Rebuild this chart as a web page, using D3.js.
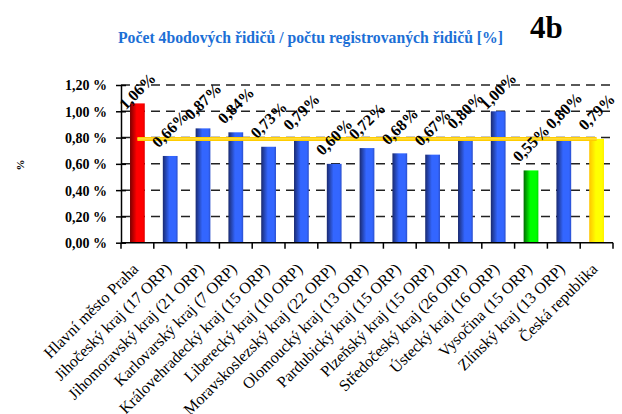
<!DOCTYPE html>
<html>
<head>
<meta charset="utf-8">
<script src="https://cdn.jsdelivr.net/npm/d3@7/dist/d3.min.js"></script>
<style>
  html, body { margin: 0; padding: 0; background: #fff; }
  svg { display: block; }
</style>
</head>
<body>
<div id="chart"></div>
<script>
// Regions and their share of 4-point drivers among registered drivers [%]
const categories = [
  "Hlavní město Praha",
  "Jihočeský kraj (17 ORP)",
  "Jihomoravský kraj (21 ORP)",
  "Karlovarský kraj (7 ORP)",
  "Královehradecký kraj (15 ORP)",
  "Liberecký kraj (10 ORP)",
  "Moravskoslezský kraj (22 ORP)",
  "Olomoucký kraj (13 ORP)",
  "Pardubický kraj (15 ORP)",
  "Plzeňský kraj (15 ORP)",
  "Středočeský kraj (26 ORP)",
  "Ústecký kraj (16 ORP)",
  "Vysočina (15 ORP)",
  "Zlínský kraj (13 ORP)",
  "Česká republika"
];
const values = [1.06, 0.66, 0.87, 0.84, 0.73, 0.79, 0.60, 0.72, 0.68, 0.67, 0.80, 1.00, 0.55, 0.80, 0.79];
// Bar colour group: max, regular, min, national
const barKind = ["max", "reg", "reg", "reg", "reg", "reg", "reg", "reg", "reg", "reg", "reg", "reg", "min", "reg", "cr"];
const nationalAverage = 0.79;
const yTicks = [0, 0.2, 0.4, 0.6, 0.8, 1.0, 1.2];

const W = 622, H = 414;
const plot = { left: 121, right: 613, top: 85, bottom: 242.7 };
const SERIF = '"Liberation Serif", Tinos, "Times New Roman", Times, "DejaVu Serif", serif';

const svg = d3.select("#chart").append("svg").attr("width", W).attr("height", H)
  .attr("font-family", SERIF);

const x = d3.scaleBand().domain(categories).range([plot.left, plot.right])
  .paddingInner(0.55).paddingOuter(0.275);
const y = d3.scaleLinear().domain([0, 1.2]).range([plot.bottom, plot.top]);
const fmt = v => v.toFixed(2).replace(".", ",");

// Gradients for the bars (dark left edge to bright face)
const defs = svg.append("defs");
const palettes = {
  max: ["#7a0000", "#ff0000", "#ff0000", "#e00000"],
  reg: ["#1a2a70", "#3366ff", "#3366ff", "#2a4fcc"],
  min: ["#006a00", "#00ff00", "#00ff00", "#00dd00"],
  cr:  ["#ffc400", "#ffff00", "#ffff00", "#ffee00"]
};
Object.entries(palettes).forEach(([k, c]) => {
  const g = defs.append("linearGradient").attr("id", "g-" + k)
    .attr("x1", "0%").attr("x2", "100%").attr("y1", "0%").attr("y2", "0%");
  [0, 45, 85, 100].forEach((o, i) => g.append("stop").attr("offset", o + "%").attr("stop-color", c[i]));
});

// Title and panel mark
svg.append("text").attr("x", 118).attr("y", 43)
  .attr("font-family", SERIF)
  .attr("font-size", 16).attr("font-weight", "bold").attr("fill", "#1c6fd6")
  .attr("textLength", 385).attr("lengthAdjust", "spacingAndGlyphs")
  .text("Počet 4bodových řidičů / počtu registrovaných řidičů [%]");
svg.append("text").attr("x", 530).attr("y", 38)
  .attr("font-family", SERIF)
  .attr("font-size", 31).attr("font-weight", "bold").attr("fill", "#000")
  .text("4b");

// Y axis title
svg.append("text").attr("transform", "translate(24,165) rotate(-90)")
  .attr("font-family", SERIF)
  .attr("text-anchor", "middle").attr("font-size", 11).attr("font-weight", "bold")
  .text("%");

// Dashed gridlines
svg.append("g").selectAll("line").data(yTicks.filter(t => t > 0)).join("line")
  .attr("x1", plot.left).attr("x2", plot.right)
  .attr("y1", d => y(d)).attr("y2", d => y(d))
  .attr("stroke", "#222").attr("stroke-width", 1.5).attr("stroke-dasharray", "9,6");

// Bars
svg.append("g").selectAll("rect").data(values).join("rect")
  .attr("x", (d, i) => x(categories[i]))
  .attr("width", x.bandwidth())
  .attr("y", d => y(d))
  .attr("height", d => y(0) - y(d))
  .attr("fill", (d, i) => "url(#g-" + barKind[i] + ")");

// National average line
const avgLine = d3.line().x(d => x(d) + x.bandwidth() / 2).y(() => y(nationalAverage));
svg.append("path").datum([categories[0], categories[categories.length - 1]])
  .attr("d", avgLine).attr("stroke", "#ffcc00").attr("stroke-width", 4).attr("fill", "none");
svg.append("path").datum([categories[0], categories[categories.length - 1]])
  .attr("d", avgLine).attr("stroke", "#ffe24a").attr("stroke-width", 1.2).attr("fill", "none");

// Y axis
const yAxis = d3.axisLeft(y).tickValues(yTicks).tickSize(0).tickFormat(d => fmt(d) + " %");
const gy = svg.append("g").attr("transform", `translate(${plot.left},0)`).call(yAxis)
  .attr("font-family", SERIF);
gy.select(".domain").attr("stroke", "#000").attr("stroke-width", 1.5);
gy.selectAll(".tick text").attr("x", -14).attr("dy", "0.35em")
  .attr("font-family", SERIF)
  .attr("font-size", 14).attr("font-weight", "bold").attr("fill", "#000");
gy.selectAll(".tick").append("line").attr("x1", -5).attr("x2", 5)
  .attr("stroke", "#000").attr("stroke-width", 1.5);

// X axis with ticks on band boundaries
svg.append("line").attr("x1", plot.left).attr("x2", plot.right)
  .attr("y1", plot.bottom).attr("y2", plot.bottom)
  .attr("stroke", "#000").attr("stroke-width", 1.5);
const bounds = categories.map(c => x(c) - x.step() * x.paddingInner() / 2).concat([plot.right]);
svg.append("g").selectAll("line").data(bounds).join("line")
  .attr("x1", d => d).attr("x2", d => d)
  .attr("y1", plot.bottom).attr("y2", plot.bottom + 6)
  .attr("stroke", "#000").attr("stroke-width", 1.5);

// Category labels
svg.append("g").selectAll("text").data(categories).join("text")
  .attr("transform", d => `translate(${x(d) + x.bandwidth() / 2 + 2},270) rotate(-45)`)
  .attr("font-family", SERIF)
  .attr("text-anchor", "end").attr("font-size", 16).attr("fill", "#000")
  .text(d => d);

// Value labels
svg.append("g").selectAll("text").data(values).join("text")
  .attr("transform", (d, i) => {
    const cx = x(categories[i]) + x.bandwidth() / 2;
    const cy = Math.max(y(d) - 27, 91);
    return `translate(${cx},${cy}) rotate(-45)`;
  })
  .attr("font-family", SERIF)
  .attr("text-anchor", "middle").attr("dominant-baseline", "central")
  .attr("font-size", 16).attr("font-weight", "bold").attr("fill", "#000")
  .text(d => fmt(d) + "%");
</script>
</body>
</html>
